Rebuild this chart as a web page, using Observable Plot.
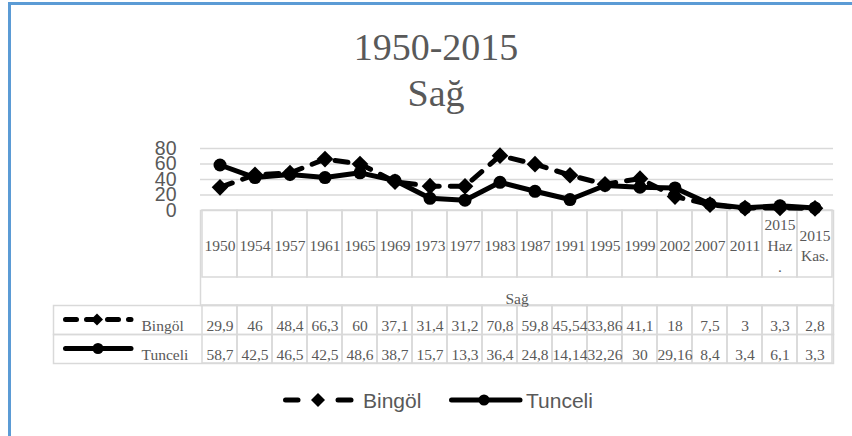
<!DOCTYPE html>
<html><head><meta charset="utf-8">
<script src="https://cdn.jsdelivr.net/npm/d3@7"></script>
<script src="https://cdn.jsdelivr.net/npm/@observablehq/plot@0.6"></script>
<style>
html,body{margin:0;padding:0;background:#fff;width:852px;height:436px;overflow:hidden;position:relative;}
#border{position:absolute;left:8px;top:2px;width:900px;height:500px;border-left:3px solid #5b9bd5;border-top:3px solid #5b9bd5;box-sizing:border-box;}
#titles{position:absolute;left:0;top:0;}
#chart{position:absolute;left:0;top:120px;}
#keys{position:absolute;left:0;top:300px;}
#legend{position:absolute;left:0;top:385px;}
</style></head><body>
<div id="border"></div>
<svg id="titles" width="852" height="120"></svg>
<div id="chart"></div>
<svg id="keys" width="200" height="70"></svg>
<svg id="legend" width="852" height="30"></svg>
<script>
const chartTitle = "1950-2015";
const chartSubtitle = "Sağ";
const axisTitle = "Sağ";
const categories = ["1950","1954","1957","1961","1965","1969","1973","1977","1983","1987","1991","1995","1999","2002","2007","2011","2015\nHaz\n.","2015\nKas."];
const seriesNames = ["Bingöl", "Tunceli"];
const bingol = [29.9, 46, 48.4, 66.3, 60, 37.1, 31.4, 31.2, 70.8, 59.8, 45.54, 33.86, 41.1, 18, 7.5, 3, 3.3, 2.8];
const tunceli = [58.7, 42.5, 46.5, 42.5, 48.6, 38.7, 15.7, 13.3, 36.4, 24.8, 14.14, 32.26, 30, 29.16, 8.4, 3.4, 6.1, 3.3];
const yTicks = [0, 20, 40, 60, 80];

const fmt = v => String(v).replace(".", ",");
const rows = categories.map((c, i) => ({cat: c, b: bingol[i], t: tunceli[i]}));

const grey = "#595959";
const gridC = "#d9d9d9";
const serif = "Liberation Serif, serif";
const sans = "Liberation Sans, Arial, sans-serif";
const tableFont = 15.5;

// Titles
const ts = d3.select("#titles");
ts.append("text").attr("x", 436).attr("y", 60)
  .attr("text-anchor", "middle").attr("font-family", serif).attr("font-size", 38).attr("fill", grey).text(chartTitle);
ts.append("text").attr("x", 436).attr("y", 106)
  .attr("text-anchor", "middle").attr("font-family", serif).attr("font-size", 38).attr("fill", grey).text(chartSubtitle);

const lineStyle = {stroke: "#000", strokeWidth: 5, strokeLinecap: "round", strokeLinejoin: "round"};
const gridStyle = {stroke: gridC, strokeWidth: 1.5, strokeOpacity: 1};

const chart = Plot.plot({
  width: 852, height: 245,
  marginLeft: 200, marginRight: 19, marginTop: 28, marginBottom: 2,
  style: {background: "transparent", overflow: "visible", color: grey},
  x: {type: "band", domain: categories, padding: 0, axis: null},
  y: {domain: [0, 80], range: [90, 28], axis: null},
  marks: [
    Plot.ruleY(yTicks.filter(v => v > 0), gridStyle),
    Plot.cell(categories, {x: d => d, fill: "none", ...gridStyle, insetTop: 62, insetBottom: 86, insetLeft: 0, insetRight: 0}),
    Plot.frame({...gridStyle, insetTop: 62, insetBottom: 58}),
    Plot.frame({...gridStyle, insetTop: 157, insetBottom: 29, insetLeft: -147}),
    Plot.frame({...gridStyle, insetTop: 186, insetBottom: 0, insetLeft: -147}),
    Plot.cell(categories, {x: d => d, fill: "none", ...gridStyle, insetTop: 157, insetBottom: 0, insetLeft: 0, insetRight: 0}),
    Plot.axisY(yTicks, {tickSize: 0, tickPadding: 24, fontSize: 19.5, fontFamily: sans, fill: grey, label: null}),
    Plot.text(categories, {x: d => d, text: d => d, frameAnchor: "top", dy: 96, lineAnchor: "middle", lineHeight: 1.33, fontSize: tableFont, fontFamily: serif, fill: grey}),
    Plot.text([axisTitle], {frameAnchor: "top", dy: 144, fontSize: tableFont, fontFamily: serif, fill: grey}),
    Plot.text(rows, {x: "cat", text: d => fmt(d.b), frameAnchor: "top", dy: 171.5, fontSize: tableFont, fontFamily: serif, fill: grey}),
    Plot.text(rows, {x: "cat", text: d => fmt(d.t), frameAnchor: "top", dy: 200.5, fontSize: tableFont, fontFamily: serif, fill: grey}),
    Plot.text([seriesNames[0]], {frameAnchor: "top-left", dx: -59, dy: 171.5, textAnchor: "start", fontSize: tableFont, fontFamily: serif, fill: grey}),
    Plot.text([seriesNames[1]], {frameAnchor: "top-left", dx: -59, dy: 200.5, textAnchor: "start", fontSize: tableFont, fontFamily: serif, fill: grey}),
    Plot.line(rows, {x: "cat", y: "b", ...lineStyle, strokeDasharray: "13,11"}),
    Plot.dot(rows, {x: "cat", y: "b", symbol: "diamond2", r: 7.5, fill: "#000", stroke: "none"}),
    Plot.line(rows, {x: "cat", y: "t", ...lineStyle}),
    Plot.dot(rows, {x: "cat", y: "t", r: 6.5, fill: "#000", stroke: "none"})
  ]
});
document.getElementById("chart").appendChild(chart);

// table header keys (legend-like swatches)
const ks = d3.select("#keys");
function diamond(g, cx, cy, r) {
  g.append("path").attr("d", `M${cx},${cy - r}L${cx + r},${cy}L${cx},${cy + r}L${cx - r},${cy}Z`).attr("fill", "#000");
}
function dashedKey(g, x0, x1, cy, mx) {
  g.append("line").attr("x1", x0).attr("x2", x1).attr("y1", cy).attr("y2", cy)
    .attr("stroke", "#000").attr("stroke-width", 5).attr("stroke-linecap", "round").attr("stroke-dasharray", "11,10");
  diamond(g, mx, cy, 6);
}
function solidKey(g, x0, x1, cy, mx) {
  g.append("line").attr("x1", x0).attr("x2", x1).attr("y1", cy).attr("y2", cy)
    .attr("stroke", "#000").attr("stroke-width", 5).attr("stroke-linecap", "round");
  g.append("circle").attr("cx", mx).attr("cy", cy).attr("r", 5.5).attr("fill", "#000");
}
dashedKey(ks, 65.5, 131, 19.5, 97);
solidKey(ks, 65.5, 131, 48.5, 98);

// bottom legend
const lg = d3.select("#legend");
const lcy = 15;
lg.append("line").attr("x1", 285.5).attr("x2", 298).attr("y1", lcy).attr("y2", lcy).attr("stroke", "#000").attr("stroke-width", 5).attr("stroke-linecap", "round");
lg.append("line").attr("x1", 338).attr("x2", 351).attr("y1", lcy).attr("y2", lcy).attr("stroke", "#000").attr("stroke-width", 5).attr("stroke-linecap", "round");
diamond(lg, 318, lcy, 7);
lg.append("text").attr("x", 363).attr("y", lcy + 7.5).attr("font-family", sans).attr("font-size", 21).attr("fill", grey).text(seriesNames[0]);
solidKey(lg, 451.5, 520, lcy, 484);
lg.append("text").attr("x", 526).attr("y", lcy + 7.5).attr("font-family", sans).attr("font-size", 21).attr("fill", grey).text(seriesNames[1]);
</script>
</body></html>
